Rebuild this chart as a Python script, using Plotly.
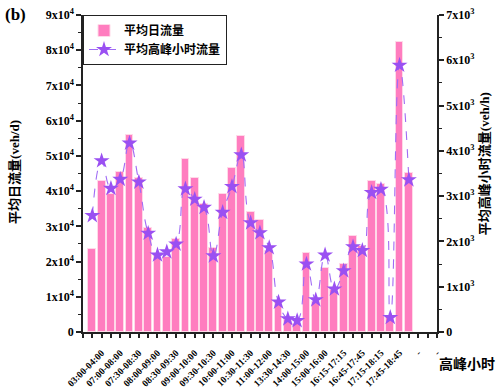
import plotly.graph_objects as go

# ---- data ----
tick_labels = ["03:00-04:00", "07:00-08:00", "07:30-08:30", "08:00-09:00", "08:30-09:30",
               "09:00-10:00", "09:30-10:30", "10:00-11:00", "10:30-11:30", "11:00-12:00",
               "13:30-14:30", "14:00-15:00", "15:00-16:00", "16:15-17:15", "16:45-17:45",
               "17:15-18:15", "17:45-18:45", "-", "-"]
daily_flow = [23600, 42800, 39200, 45300, 55800, 43800, 29600, 21500, 21300, 26400,
              49000, 43800, 36300, 23800, 39200, 46700, 55700, 34100, 31700, 23000,
              8900, 3300, 2200, 22400, 8600, 18300, 11900, 19300, 27300, 24300,
              42900, 41900, 4300, 82200, 45100]
peak_hour_flow = [2570, 3780, 3170, 3370, 4170, 3310, 2180, 1700, 1770, 1940,
                  3160, 2930, 2750, 1680, 2640, 3210, 3910, 2410, 2190, 1860,
                  660, 290, 250, 1500, 710, 1700, 950, 1350, 1880, 1800,
                  3080, 3150, 320, 5890, 3360]
left_ticks = [0, 10000, 20000, 30000, 40000, 50000, 60000, 70000, 80000, 90000]
left_ticktext = ["0"] + [f"{i}x10<sup>4</sup>" for i in range(1, 10)]
right_ticks = [0, 1000, 2000, 3000, 4000, 5000, 6000, 7000]
right_ticktext = ["0"] + [f"{i}x10<sup>3</sup>" for i in range(1, 8)]

slots = list(range(1, len(daily_flow) + 1))
n_slots = 2 * len(tick_labels)
tickvals = [2 * (i + 1) for i in range(len(tick_labels))]

SERIF = "Liberation Serif, Noto Sans CJK SC"
CJK = "Noto Sans CJK SC"

fig = go.Figure()
fig.add_trace(go.Bar(
    x=slots, y=daily_flow, name="平均日流量", width=0.84,
    marker=dict(color="#FF7DBF", line=dict(color="#FFD9E8", width=1)),
    yaxis="y"))
fig.add_trace(go.Scatter(
    x=slots, y=peak_hour_flow, name="平均高峰小时流量", mode="lines+markers",
    line=dict(color="#A06CF5", width=1.1, dash="dash", shape="spline", smoothing=1.3),
    marker=dict(symbol="star", size=12, color="#9A50F2", line=dict(width=0)),
    yaxis="y2"))

axis_common = dict(showline=True, linecolor="#222", linewidth=1.5, showgrid=False,
                   zeroline=False, ticks="outside", tickcolor="#222", tickwidth=1.5,
                   automargin=False)

fig.update_layout(
    width=500, height=390,
    margin=dict(l=83, r=63, t=15, b=58, autoexpand=False),
    paper_bgcolor="white", plot_bgcolor="white",
    bargap=0,
    showlegend=True,
    legend=dict(x=0, y=1, xanchor="left", yanchor="top", bgcolor="white",
                bordercolor="#222", borderwidth=1,
                font=dict(family=CJK, size=12, color="black", weight="bold"),
                tracegroupgap=2, itemwidth=30),
    xaxis=dict(range=[0, n_slots + 0.02], tickmode="array", tickvals=tickvals, ticktext=tick_labels,
               tickangle=-45, ticklen=4, ticklabelstandoff=6,
               minor=dict(dtick=1, tick0=0, ticks="outside", ticklen=4, tickcolor="#222", tickwidth=1.5),
               tickfont=dict(family=SERIF, size=9.5, color="black", weight="bold"),
               **axis_common),
    yaxis=dict(range=[0, 90000], tickmode="array", tickvals=left_ticks, ticktext=left_ticktext,
               ticklen=5,
               minor=dict(dtick=5000, ticks="outside", ticklen=3, tickcolor="#222", tickwidth=1.2),
               tickfont=dict(family=SERIF, size=12, color="black", weight="bold"),
               **axis_common),
    yaxis2=dict(range=[0, 7000], overlaying="y", side="right", anchor="x",
                tickmode="array", tickvals=right_ticks, ticktext=right_ticktext,
                ticklen=5,
                minor=dict(dtick=500, ticks="outside", ticklen=3, tickcolor="#222", tickwidth=1.2),
                tickfont=dict(family=SERIF, size=12, color="black", weight="bold"),
                **axis_common),
    annotations=[
        dict(text="(b)", x=-0.19, y=1.003, xref="paper", yref="paper", showarrow=False,
             xanchor="center", yanchor="middle",
             font=dict(family=SERIF, size=17, color="black", weight="bold")),
        dict(text="平均日流量(veh/d)", x=-0.192, y=0.505, xref="paper", yref="paper",
             showarrow=False, textangle=-90, xanchor="center", yanchor="middle",
             font=dict(family=SERIF, size=13, color="black", weight="bold")),
        dict(text="平均高峰小时流量(veh/h)", x=1.135, y=0.532, xref="paper", yref="paper",
             showarrow=False, textangle=-90, xanchor="center", yanchor="middle",
             font=dict(family=SERIF, size=13, color="black", weight="bold")),
        dict(text="高峰小时", x=1.085, y=-0.098, xref="paper", yref="paper",
             showarrow=False, xanchor="center", yanchor="middle",
             font=dict(family=CJK, size=14, color="black", weight="bold")),
    ],
)

fig.write_html("out.html", config={"displayModeBar": False},
               post_script="document.body.style.margin='0';")
